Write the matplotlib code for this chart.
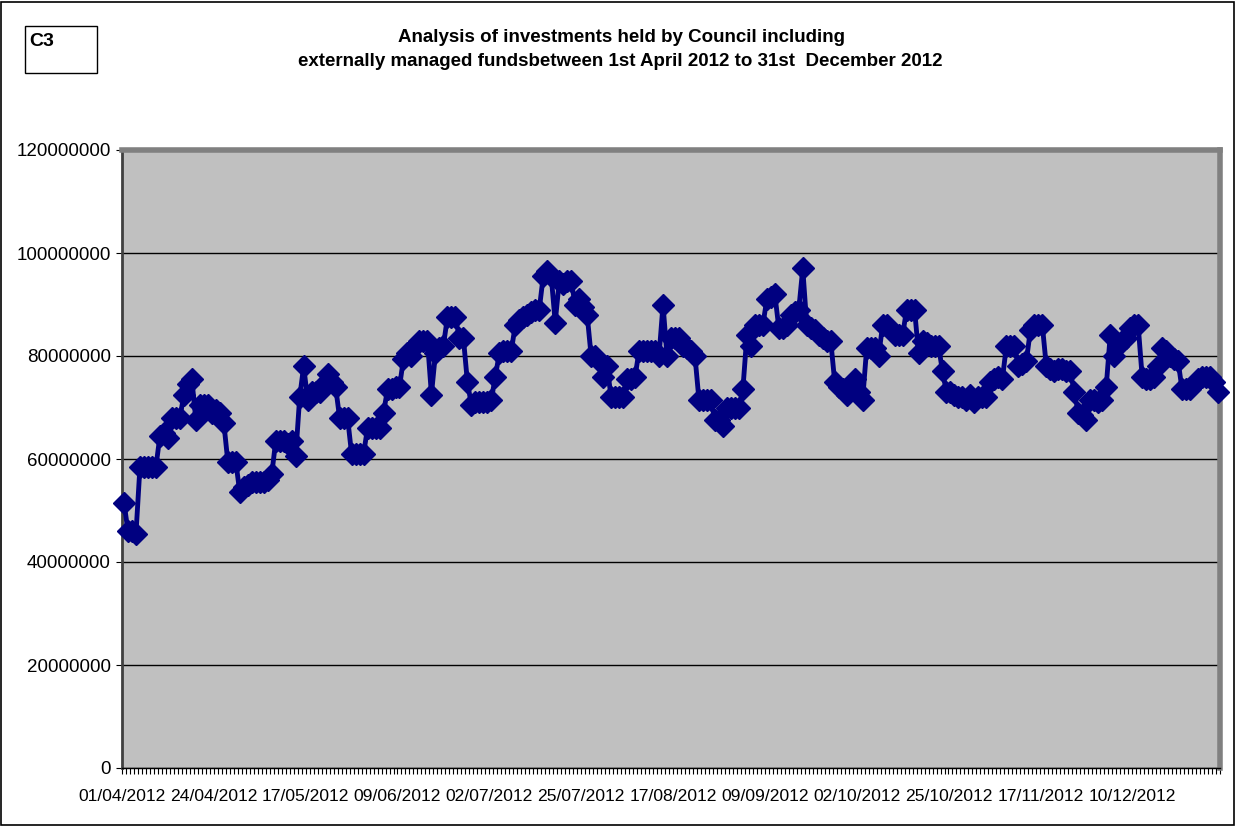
import matplotlib
matplotlib.use("Agg")
import matplotlib.pyplot as plt
from matplotlib.patches import Rectangle
import numpy as np

plt.rcParams['font.family'] = ['Liberation Sans', 'DejaVu Sans']

# Daily category labels, 01/04/2012 .. 31/12/2012 (275 days)
tick_labels = ["01/04/2012", "24/04/2012", "17/05/2012", "09/06/2012", "02/07/2012",
               "25/07/2012", "17/08/2012", "09/09/2012", "02/10/2012", "25/10/2012",
               "17/11/2012", "10/12/2012"]
tick_step_days = 23

# Investments held (millions), one value per day
values_m = [
    51.5, 46, 46, 45.5, 58.5, 58.5, 58.5, 58.5, 58.5, 64.5,
    65, 64, 68, 68, 68, 72.5, 74.5, 75.5, 67.5, 70.5,
    70.5, 70.5, 69, 69.5, 69, 67, 59.5, 59.5, 59.5, 53.5,
    54.5, 55, 55.5, 55.5, 55.5, 55.5, 56, 57, 63.5, 63.5,
    63.5, 63, 63.5, 60.5, 72, 78, 71.5, 73, 73, 73,
    74.5, 76.5, 75, 74, 68, 68, 68, 61, 61, 61,
    61, 66, 66, 66, 66, 69, 73.5, 73.5, 74, 74,
    79.5, 80.5, 80, 82, 83, 83, 83, 72.5, 80.5, 81.5,
    82, 87.5, 87.5, 87.5, 83.5, 83.5, 75, 70.5, 71, 71,
    71, 71, 71.5, 76, 80.5, 81, 81, 81, 86, 87,
    87.5, 88, 88.5, 89, 89, 95.5, 96.5, 95.5, 86.5, 94.5,
    94, 94.5, 94.5, 90, 91, 89.5, 88, 80, 80, 79,
    76, 78, 72, 72, 72, 72, 75.5, 75.5, 76, 81,
    81, 81, 81, 81, 80, 90, 80, 83.5, 83.5, 83.5,
    82, 81.5, 81, 80, 71.5, 71.5, 71.5, 71.5, 67.5, 67.5,
    66.5, 70, 70, 70, 70, 73.5, 84, 82, 86, 86,
    86, 91, 91.5, 92, 85.5, 85.5, 86, 88, 88.5, 89,
    97, 86, 85.5, 85, 84, 83.5, 83, 83, 75, 74,
    73.5, 72.5, 74, 75.5, 73, 71.5, 81.5, 81.5, 81.5, 80,
    86, 86, 85, 84, 84, 84, 89, 89, 89, 80.5,
    83, 82.5, 82, 82, 82, 77, 73, 73, 72.5, 72,
    72, 71.5, 72.5, 71, 72, 72, 72, 75, 75.5, 76,
    75.5, 82, 82, 82, 78, 78.5, 79, 85, 86, 86,
    86, 78, 77.5, 77, 77.5, 77.5, 77, 77, 73, 69,
    68.5, 67.5, 71.5, 71.5, 71, 71.5, 74, 84, 80, 82,
    83, 83.5, 85.5, 86, 86, 76, 75.5, 75.5, 76, 78,
    81.5, 81, 80, 79.5, 79, 73.5, 73.5, 73.5, 74.5, 75.5,
    76, 76, 76, 75, 73,
]
values = np.array(values_m) * 1e6
x = np.arange(len(values))

W, H = 1236, 826
fig = plt.figure(figsize=(W / 100, H / 100), dpi=100)
fig.patch.set_facecolor('white')

# figure frame
fig.patches.append(Rectangle((1 / W, 1 / H), 1 - 3 / W, 1 - 3 / H, transform=fig.transFigure,
                             fill=False, edgecolor='black', linewidth=1.2))
# C3 box
fig.patches.append(Rectangle((25 / W, 1 - 73 / H), 72 / W, 47 / H, transform=fig.transFigure,
                             fill=False, edgecolor='black', linewidth=1.0))
fig.text(29 / W, 1 - 41 / H, "C3", fontsize=14, fontweight='bold', ha='left', va='center')

fig.text(621 / W, 1 - 37 / H, "Analysis of investments held by Council including",
         fontsize=13.5, fontweight='bold', ha='center', va='center')
fig.text(620 / W, 1 - 61 / H, "externally managed fundsbetween 1st April 2012 to 31st  December 2012",
         fontsize=13.5, fontweight='bold', ha='center', va='center')

ax = fig.add_axes([122 / W, (H - 768) / H, 1098 / W, 618 / H])
ax.set_facecolor('#C0C0C0')
ax.set_xlim(-0.5, len(values) - 0.5)
ax.set_ylim(0, 120000000)
ax.set_yticks(np.arange(0, 120000001, 20000000))
ax.set_yticklabels([str(int(v)) for v in np.arange(0, 120000001, 20000000)], fontsize=13.5)
ax.yaxis.grid(True, color='black', linewidth=1.0)
ax.set_axisbelow(True)

major = np.arange(0, len(tick_labels) * tick_step_days, tick_step_days)
ax.set_xticks(major - 0.5)
ax.set_xticklabels(tick_labels, fontsize=12.6)
ax.set_xticks(np.arange(len(values) + 1) - 0.5, minor=True)
ax.tick_params(axis='x', which='both', length=4, width=0.8, pad=11)
ax.tick_params(axis='y', length=4, width=0.8, pad=4)

for s in ['top', 'right']:
    ax.spines[s].set_color('#808080')
    ax.spines[s].set_linewidth(4)
ax.spines['left'].set_color('#404040')
ax.spines['left'].set_linewidth(2)
ax.spines['bottom'].set_color('black')
ax.spines['bottom'].set_linewidth(1)

ax.plot(x, values, color='#000080', linewidth=3.5, marker='D', markersize=11,
        markerfacecolor='#000080', markeredgecolor='#000080', clip_on=False, zorder=3)

fig.savefig("out.png", dpi=100)
